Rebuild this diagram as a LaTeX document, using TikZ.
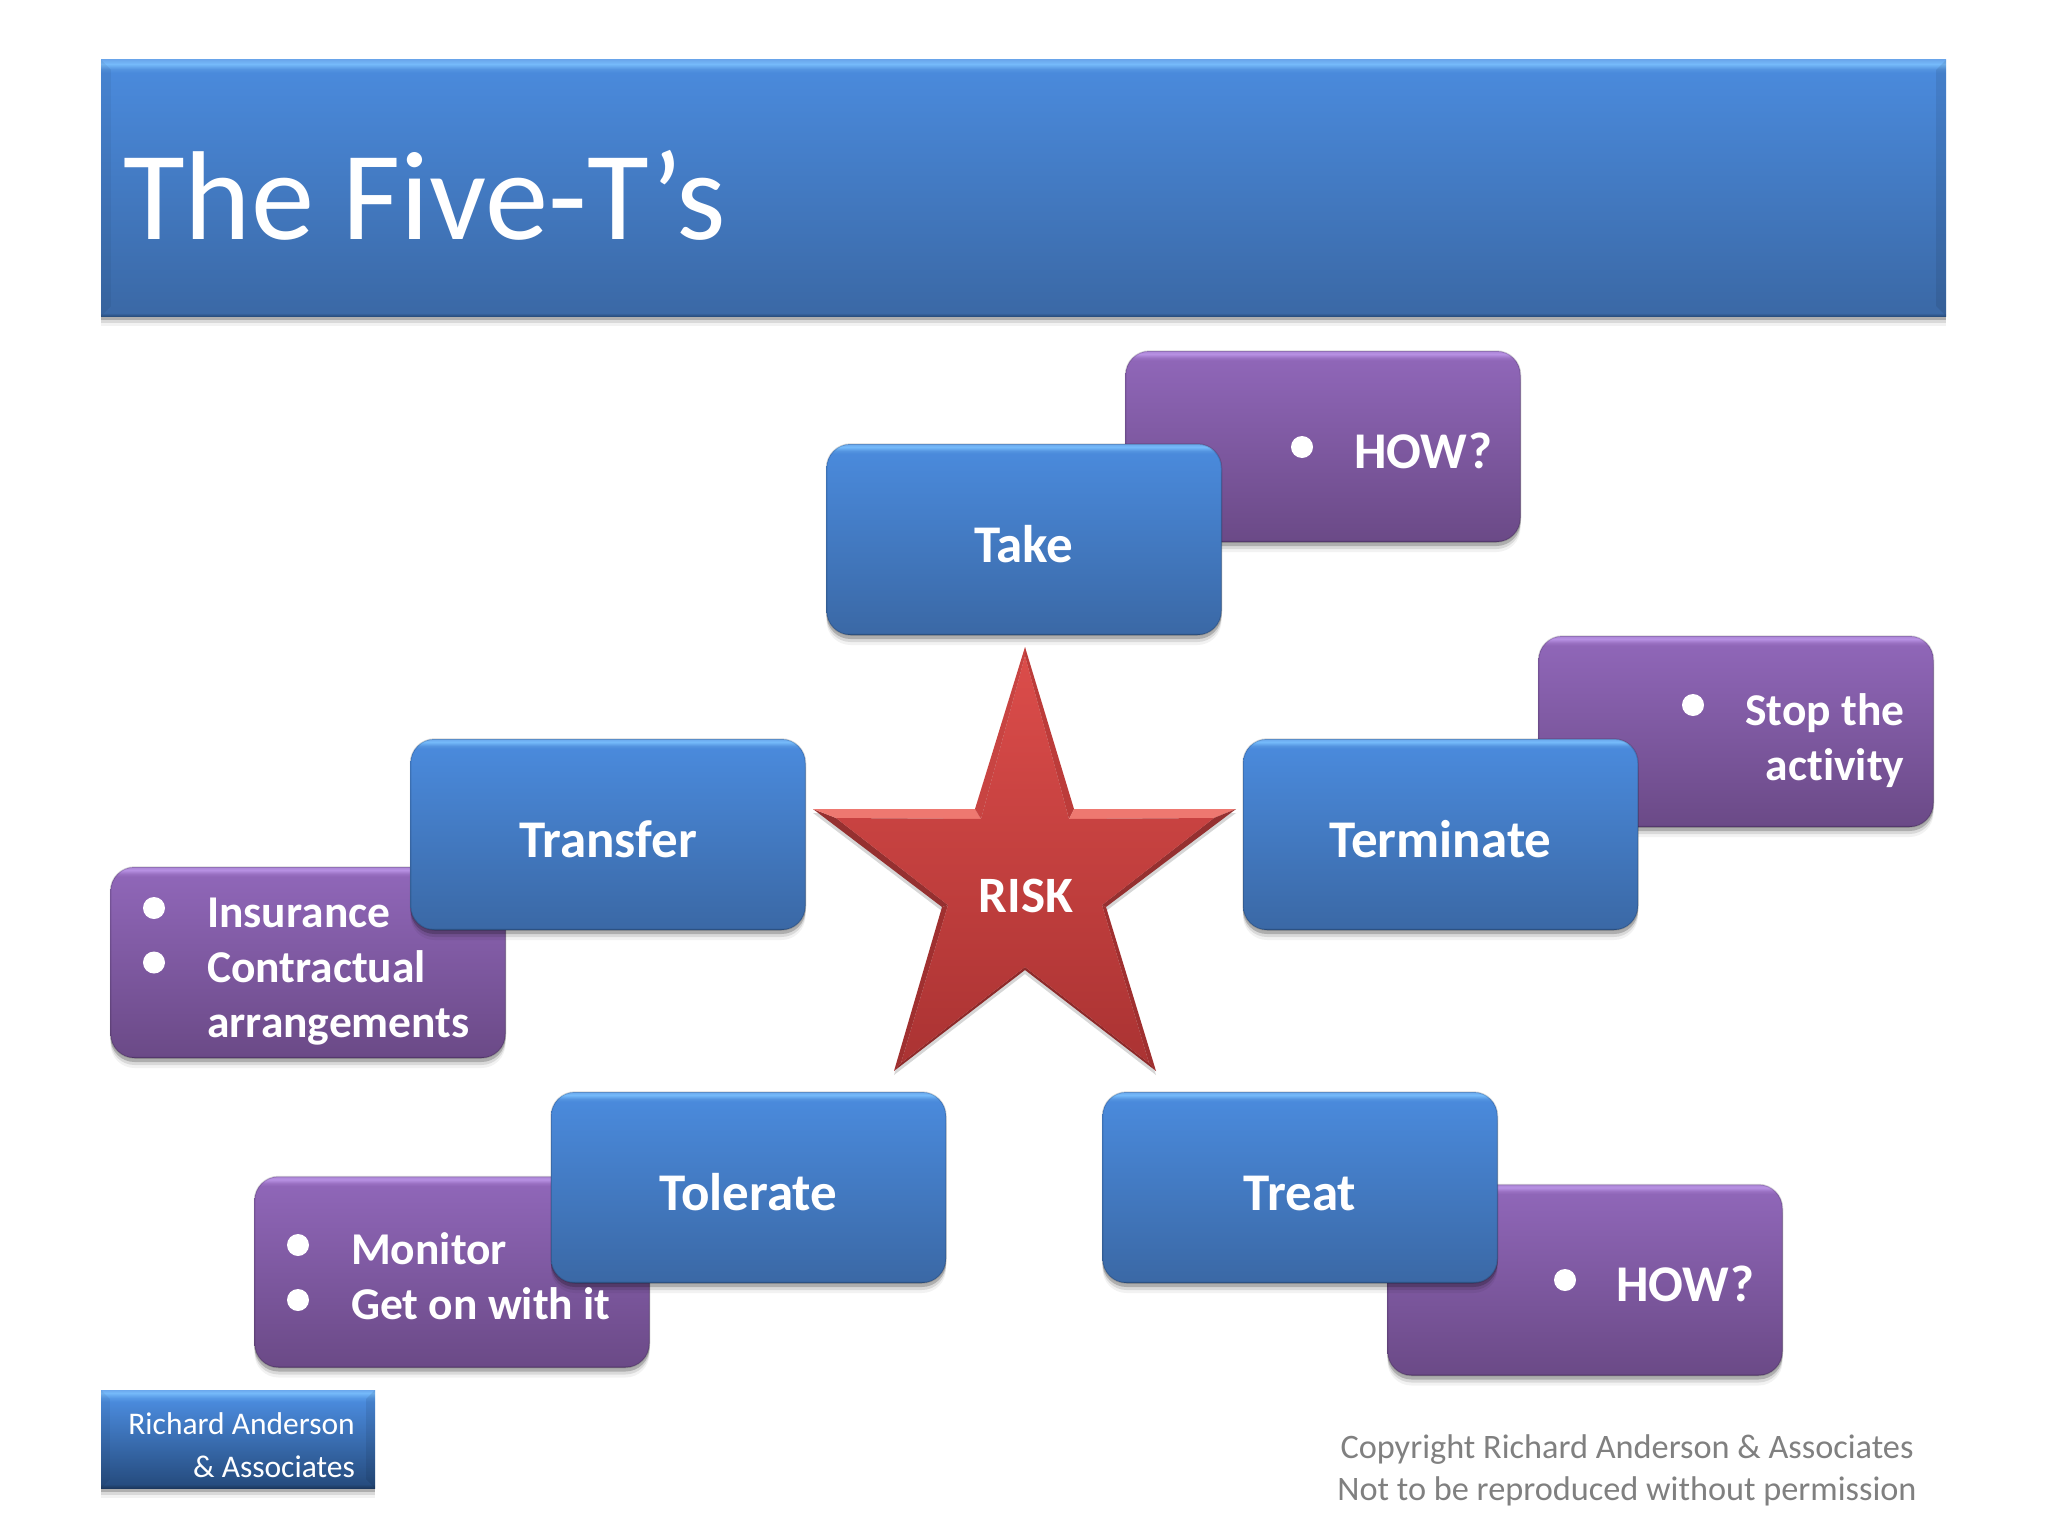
\documentclass[tikz,border=0pt]{standalone}
\usepackage{fontspec}
\setmainfont{Carlito}[Ligatures=NoCommon]
\usetikzlibrary{shadows}
\pgfdeclareverticalshading{bluefill}{100bp}{rgb(0bp)=(0.16,0.31,0.50); rgb(25bp)=(0.16,0.31,0.50); rgb(25.6bp)=(0.23,0.41,0.65); rgb(72.5bp)=(0.29,0.54,0.86); rgb(73.2bp)=(0.33,0.58,0.88); rgb(74.2bp)=(0.46,0.73,0.98); rgb(75bp)=(0.42,0.66,0.93); rgb(100bp)=(0.42,0.66,0.93)}
\pgfdeclareverticalshading{purplefill}{100bp}{rgb(0bp)=(0.33,0.21,0.43); rgb(25bp)=(0.33,0.21,0.43); rgb(25.6bp)=(0.42,0.29,0.53); rgb(72.5bp)=(0.56,0.40,0.72); rgb(73.2bp)=(0.60,0.44,0.76); rgb(74.2bp)=(0.72,0.57,0.89); rgb(75bp)=(0.67,0.52,0.84); rgb(100bp)=(0.67,0.52,0.84)}
\pgfdeclareverticalshading{logofill}{100bp}{rgb(0bp)=(0.11,0.22,0.37); rgb(25bp)=(0.11,0.22,0.37); rgb(27bp)=(0.15,0.30,0.50); rgb(69bp)=(0.29,0.54,0.86); rgb(71bp)=(0.34,0.60,0.90); rgb(73.5bp)=(0.46,0.73,0.98); rgb(75bp)=(0.42,0.66,0.93); rgb(100bp)=(0.42,0.66,0.93)}
\pgfdeclareverticalshading{redfill}{100bp}{rgb(0bp)=(0.67,0.20,0.20); rgb(25bp)=(0.67,0.20,0.20); rgb(75bp)=(0.86,0.30,0.29); rgb(100bp)=(0.86,0.30,0.29)}
\tikzset{
  softshadow/.style={drop shadow={shadow xshift=0pt,shadow yshift=-10pt,opacity=.05,fill=black},
    drop shadow={shadow xshift=0pt,shadow yshift=-7pt,opacity=.1,fill=black},
    drop shadow={shadow xshift=0pt,shadow yshift=-4pt,opacity=.2,fill=black}},
  box/.style={shade,softshadow,draw=black,draw opacity=.15,line width=1.5pt,rounded corners=24pt,minimum width=395pt,minimum height=191pt,
    inner sep=0pt,text=white,font=\fontsize{53}{60}\selectfont\bfseries},
  bluebox/.style={box,shading=bluefill,text height=45pt,text depth=0pt},
  purplebox/.style={box,shading=purplefill},
  itemtext/.style={text=white,inner sep=0pt,font=\fontsize{45.5}{54}\selectfont\bfseries},
  howtext/.style={itemtext,font=\fontsize{51.5}{60}\selectfont\bfseries},
  dotmark/.style={circle,fill=white,inner sep=0pt,minimum size=22pt},
  greytext/.style={text=black!50,inner sep=0pt,font=\fontsize{34.3}{42}\selectfont}
}
\begin{document}
\begin{tikzpicture}[x=1pt,y=-1pt]
  \useasboundingbox (0,0) rectangle (2048,1536);
  \node (titlebar) [shade,shading=bluefill,softshadow,minimum width=1845pt,minimum height=256pt,inner sep=0pt] at (1023.5,188) {};
  \node (logo) [shade,shading=logofill,softshadow,minimum width=274pt,minimum height=98pt,inner sep=0pt] at (238,1439) {};
  \foreach \bar/\w in {titlebar/10, logo/9}{
    \fill[black,opacity=.08] (\bar.north east) -- ++(-\w,\w) -- ([shift={(-\w,-\w)}]\bar.south east) -- (\bar.south east) -- cycle;
    \fill[black,opacity=.05] (\bar.north west) -- ++(\w,\w) -- ([shift={(\w,-\w)}]\bar.south west) -- (\bar.south west) -- cycle;
  }
  \node (titletext) [anchor=base west,text=white,inner sep=0pt,font=\fontsize{126.5}{150}\selectfont] at (123,239) {The Five-T’s};

  \foreach \name/\x/\y in {howa/1323/446.5, ins/308/962.5, stop/1736/731.5, mon/452/1272, howb/1585/1280}
    \node (\name) [purplebox] at (\x,\y) {};
  \foreach \name/\x/\y/\txt in {take/1024/539.5/Take, transfer/608/834.5/Transfer, terminate/1440.5/834.5/Terminate,
      tolerate/748.5/1187.5/Tolerate, treat/1300/1187.5/Treat}
    \node (\name) [bluebox] at (\x,\y) {\txt};

  \foreach \name/\x/\y in {a/1302/447, b/154/908, c/154/962.5, d/1693/705, e/298/1245, f/298/1300, g/1565/1280}
    \node (dot\name) [dotmark] at (\x,\y) {};
  \foreach \name/\x/\y/\txt in {b/207/927/Insurance, c/207/982/Contractual, d/207/1037/arrangements,
      e/351/1264/Monitor, f/351/1319/Get on with it}
    \node (item\name) [itemtext,anchor=base west] at (\x,\y) {\txt};
  \node (itema) [howtext,anchor=base west] at (1354,468) {HOW?};
  \node (itemg) [howtext,anchor=base west] at (1616,1301) {HOW?};
  \node (itemh) [itemtext,anchor=base east] at (1904.5,725) {Stop the};
  \node (itemi) [itemtext,anchor=base east] at (1904.5,780) {activity};

  \foreach \n/\x/\y/\u/\v in {1/1025/647/1025/656, 2/1074/809/1069/819, 3/1236/809/1214/818, 4/1106/907/1102/905,
      5/1156/1071/1149/1063, 6/1025/970/1025/967, 7/894/1071/901/1063, 8/942/907/948/905, 9/813/809/836/818, 10/975/809/981/819}{
    \coordinate (o\n) at (\x,\y);
    \coordinate (i\n) at (\u,\v);
  }
  \fill[black,opacity=.16] ([shift={(0,4)}]o1) -- ([shift={(0,4)}]o2) -- ([shift={(0,4)}]o3) -- ([shift={(0,4)}]o4) -- ([shift={(0,4)}]o5)
    -- ([shift={(0,4)}]o6) -- ([shift={(0,4)}]o7) -- ([shift={(0,4)}]o8) -- ([shift={(0,4)}]o9) -- ([shift={(0,4)}]o10) -- cycle;
  \foreach \i/\j/\col in {1/2/BC3C3A, 2/3/EE7870, 3/4/953030, 4/5/A03030, 5/6/8E2A2A, 6/7/8E2A2A, 7/8/A03030, 8/9/953030, 9/10/EE7870, 10/1/C84442}{
    \definecolor{edgecol}{HTML}{\col}
    \fill[edgecol] (o\i) -- (o\j) -- (i\j) -- (i\i) -- cycle;
  }
  \shade[shading=redfill] (i1) -- (i2) -- (i3) -- (i4) -- (i5) -- (i6) -- (i7) -- (i8) -- (i9) -- (i10) -- cycle;
  \node (risk) [text=white,inner sep=0pt,font=\fontsize{51}{60}\selectfont\bfseries] at (1026,896) {RISK};

  \node (logoa) [anchor=base east,text=white,inner sep=0pt,font=\fontsize{31.5}{36}\selectfont] at (355,1434) {Richard Anderson};
  \node (logob) [anchor=base east,text=white,inner sep=0pt,font=\fontsize{31.5}{36}\selectfont] at (355,1477) {\&~Associates};
  \node (copya) [greytext,anchor=base] at (1627,1458) {Copyright Richard Anderson \& Associates};
  \node (copyb) [greytext,anchor=base] at (1627,1500) {Not to be reproduced without permission};
\end{tikzpicture}
\end{document}
